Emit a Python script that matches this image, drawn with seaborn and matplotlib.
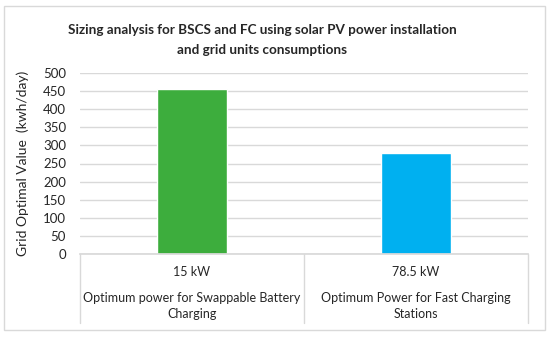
import matplotlib
matplotlib.use("Agg")
import matplotlib.pyplot as plt
import matplotlib.transforms as mtransforms
from matplotlib.patches import Rectangle
import seaborn as sns
import pandas as pd

# --- dados ---
potencias = ['15 kW', '78.5 kW']
descricoes = ['Optimum power for Swappable Battery\nCharging',
              'Optimum Power for Fast Charging\nStations']
valores = [455, 278]
cores = ['#3DAD3D', '#00B0F0']

df = pd.DataFrame({'cat': potencias, 'valor': valores})

sns.set_theme(style="white")
plt.rcParams['font.family'] = ['Lato', 'DejaVu Sans']
cinza = '#D9D9D9'
texto = '#262626'

fig = plt.figure(figsize=(5.5, 3.37), dpi=100)
ax = fig.add_axes([80/550, 1 - 254/337, 448/550, 181/337])

sns.barplot(data=df, x='cat', y='valor', hue='cat', palette=cores,
            width=0.31, legend=False, ax=ax, saturation=1)

ax.set_ylim(0, 500)
ax.set_xlim(-0.5, 1.5)
ax.set_yticks(range(0, 501, 50))
ax.yaxis.grid(True, color=cinza, linewidth=1)
ax.set_axisbelow(True)
for s in ['top', 'right', 'left']:
    ax.spines[s].set_visible(False)
ax.spines['bottom'].set_color(cinza)
ax.tick_params(axis='y', length=0, labelsize=9.5, colors=texto, pad=10)
ax.set_xticks([])
ax.set_xlabel('')
ax.set_ylabel('Grid Optimal Value  (kwh/day)', fontsize=10, color=texto, labelpad=10)

# eixo de categorias em caixas
trans = mtransforms.blended_transform_factory(ax.transData, ax.transAxes)
fundo = (254 - 323) / 181
for xv in [-0.5, 0.5, 1.5]:
    ax.plot([xv, xv], [0, fundo], transform=trans, color=cinza, lw=1, clip_on=False)
for i, (p, d) in enumerate(zip(potencias, descricoes)):
    ax.text(i, (254 - 272) / 181, p, transform=trans, ha='center', va='center',
            fontsize=9, color=texto)
    ax.text(i, (254 - 306) / 181, d, transform=trans, ha='center', va='center',
            fontsize=9, color=texto, linespacing=1.3)

fig.text(262/550, 1 - 40/337,
         'Sizing analysis for BSCS and FC using solar PV power installation\nand grid units consumptions',
         ha='center', va='center', fontsize=9.7, fontweight='bold', color=texto, linespacing=1.9)

fig.add_artist(Rectangle((4/550, 1 - 330/337), 541/550, 324/337, transform=fig.transFigure,
                         fill=False, edgecolor=cinza, lw=1))

fig.savefig('out.png', dpi=100)
